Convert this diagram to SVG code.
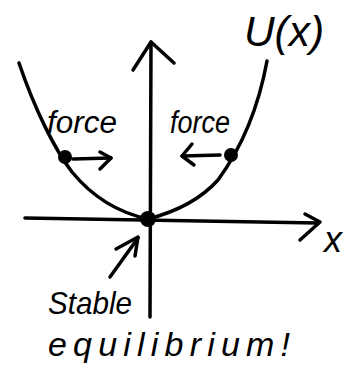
<svg xmlns="http://www.w3.org/2000/svg" width="356" height="369" viewBox="0 0 356 369">
<style>
.ln{fill:none;stroke:#000;stroke-width:3.5;stroke-linecap:round;stroke-linejoin:round}
.t{font-family:"Liberation Sans","DejaVu Sans",sans-serif;font-style:italic;fill:#000}
</style>
<rect width="356" height="369" fill="#fff"/>
<g id="connectors">
<path class="ln" d="M150,317 L151,42"/>
<path class="ln" d="M133,70 L151,42 L174,63"/>
<path class="ln" d="M25,218 L318,223"/>
<path class="ln" d="M305,214 L320,222 L300,240"/>
<path class="ln" d="M19,63 C35,110 55,150 72,172 C95,200 120,213 148,219"/>
<path class="ln" d="M148,219 C175,212 200,200 218,180 C240,150 258,110 267,61"/>
<path class="ln" d="M73,159 L111,158"/>
<path class="ln" d="M100,152 L111,158 L100,169"/>
<path class="ln" d="M220,155 L182,156"/>
<path class="ln" d="M192,144 L182,156 L194,165"/>
<path class="ln" d="M110,277 L138,238"/>
<path class="ln" d="M116,249 L138,237 L135,256"/>
</g>
<g id="origin"><circle cx="148" cy="219" r="8"/></g>
<g id="left-ball"><circle cx="65" cy="157" r="7"/><text class="t" x="47" y="133" font-size="31" textLength="70" lengthAdjust="spacingAndGlyphs">force</text></g>
<g id="right-ball"><circle cx="231" cy="155" r="7"/><text class="t" x="170" y="133" font-size="31" textLength="60" lengthAdjust="spacingAndGlyphs">force</text></g>
<g id="potential-label"><text class="t" x="244" y="46" font-size="42" textLength="80" lengthAdjust="spacingAndGlyphs">U(x)</text></g>
<g id="x-label"><text class="t" x="324" y="252" font-size="36">x</text></g>
<g id="equilibrium-label">
<text class="t" x="48" y="314" font-size="32" textLength="84" lengthAdjust="spacingAndGlyphs">Stable</text>
<text class="t" x="48" y="356" font-size="34" textLength="242" lengthAdjust="spacing">equilibrium!</text>
</g>
</svg>
